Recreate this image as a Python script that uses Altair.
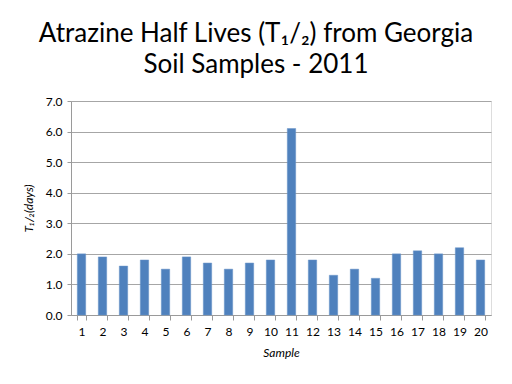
import altair as alt
import pandas as pd

samples = [str(i) for i in range(1, 21)]
half_lives = [2.0, 1.9, 1.6, 1.8, 1.5, 1.9, 1.7, 1.5, 1.7, 1.8,
              6.1, 1.8, 1.3, 1.5, 1.2, 2.0, 2.1, 2.0, 2.2, 1.8]

df = pd.DataFrame({"Sample": samples, "T": half_lives})

FONT = "Lato"

chart = alt.Chart(df).mark_bar(color="#4F81BD", stroke="#6B95C8", strokeWidth=0.5).encode(
    x=alt.X("Sample:N", sort=samples,
            scale=alt.Scale(paddingInner=0.6, paddingOuter=0.3),
            axis=alt.Axis(title="Sample", labelAngle=0, tickBand="extent",
                          titleFontStyle="italic", titleFontWeight="normal",
                          titleFont=FONT, labelFont=FONT, labelFontSize=12,
                          titleFontSize=12, labelColor="#000", titleColor="#000",
                          domainColor="#9A9A9A", tickColor="#9A9A9A", tickSize=5,
                          labelPadding=6, titlePadding=10)),
    y=alt.Y("T:Q", scale=alt.Scale(domain=[0, 7]),
            axis=alt.Axis(title="T₁/₂(days)", values=[0, 1, 2, 3, 4, 5, 6, 7],
                          format=".1f", grid=True, gridColor="#A6A6A6",
                          titleFontStyle="italic", titleFontWeight="normal",
                          titleFont=FONT, labelFont=FONT, labelFontSize=12,
                          titleFontSize=12, labelColor="#000", titleColor="#000",
                          domainColor="#9A9A9A", tickColor="#9A9A9A", tickSize=4,
                          labelPadding=5, titlePadding=10)),
).properties(
    width=420, height=214,
    title=alt.TitleParams(["Atrazine Half Lives (T₁/₂) from Georgia", "Soil Samples - 2011"],
                          font=FONT, fontSize=26, fontWeight="normal", color="#000",
                          anchor="middle", dx=-25, offset=17, lineHeight=31),
    autosize=alt.AutoSizeParams(type="none"),
    padding={"left": 63, "top": 93, "right": 13, "bottom": 53},
).configure_view(stroke=None).configure(background="white")

chart.save("out.html", embed_options={"renderer": "svg", "actions": False})
